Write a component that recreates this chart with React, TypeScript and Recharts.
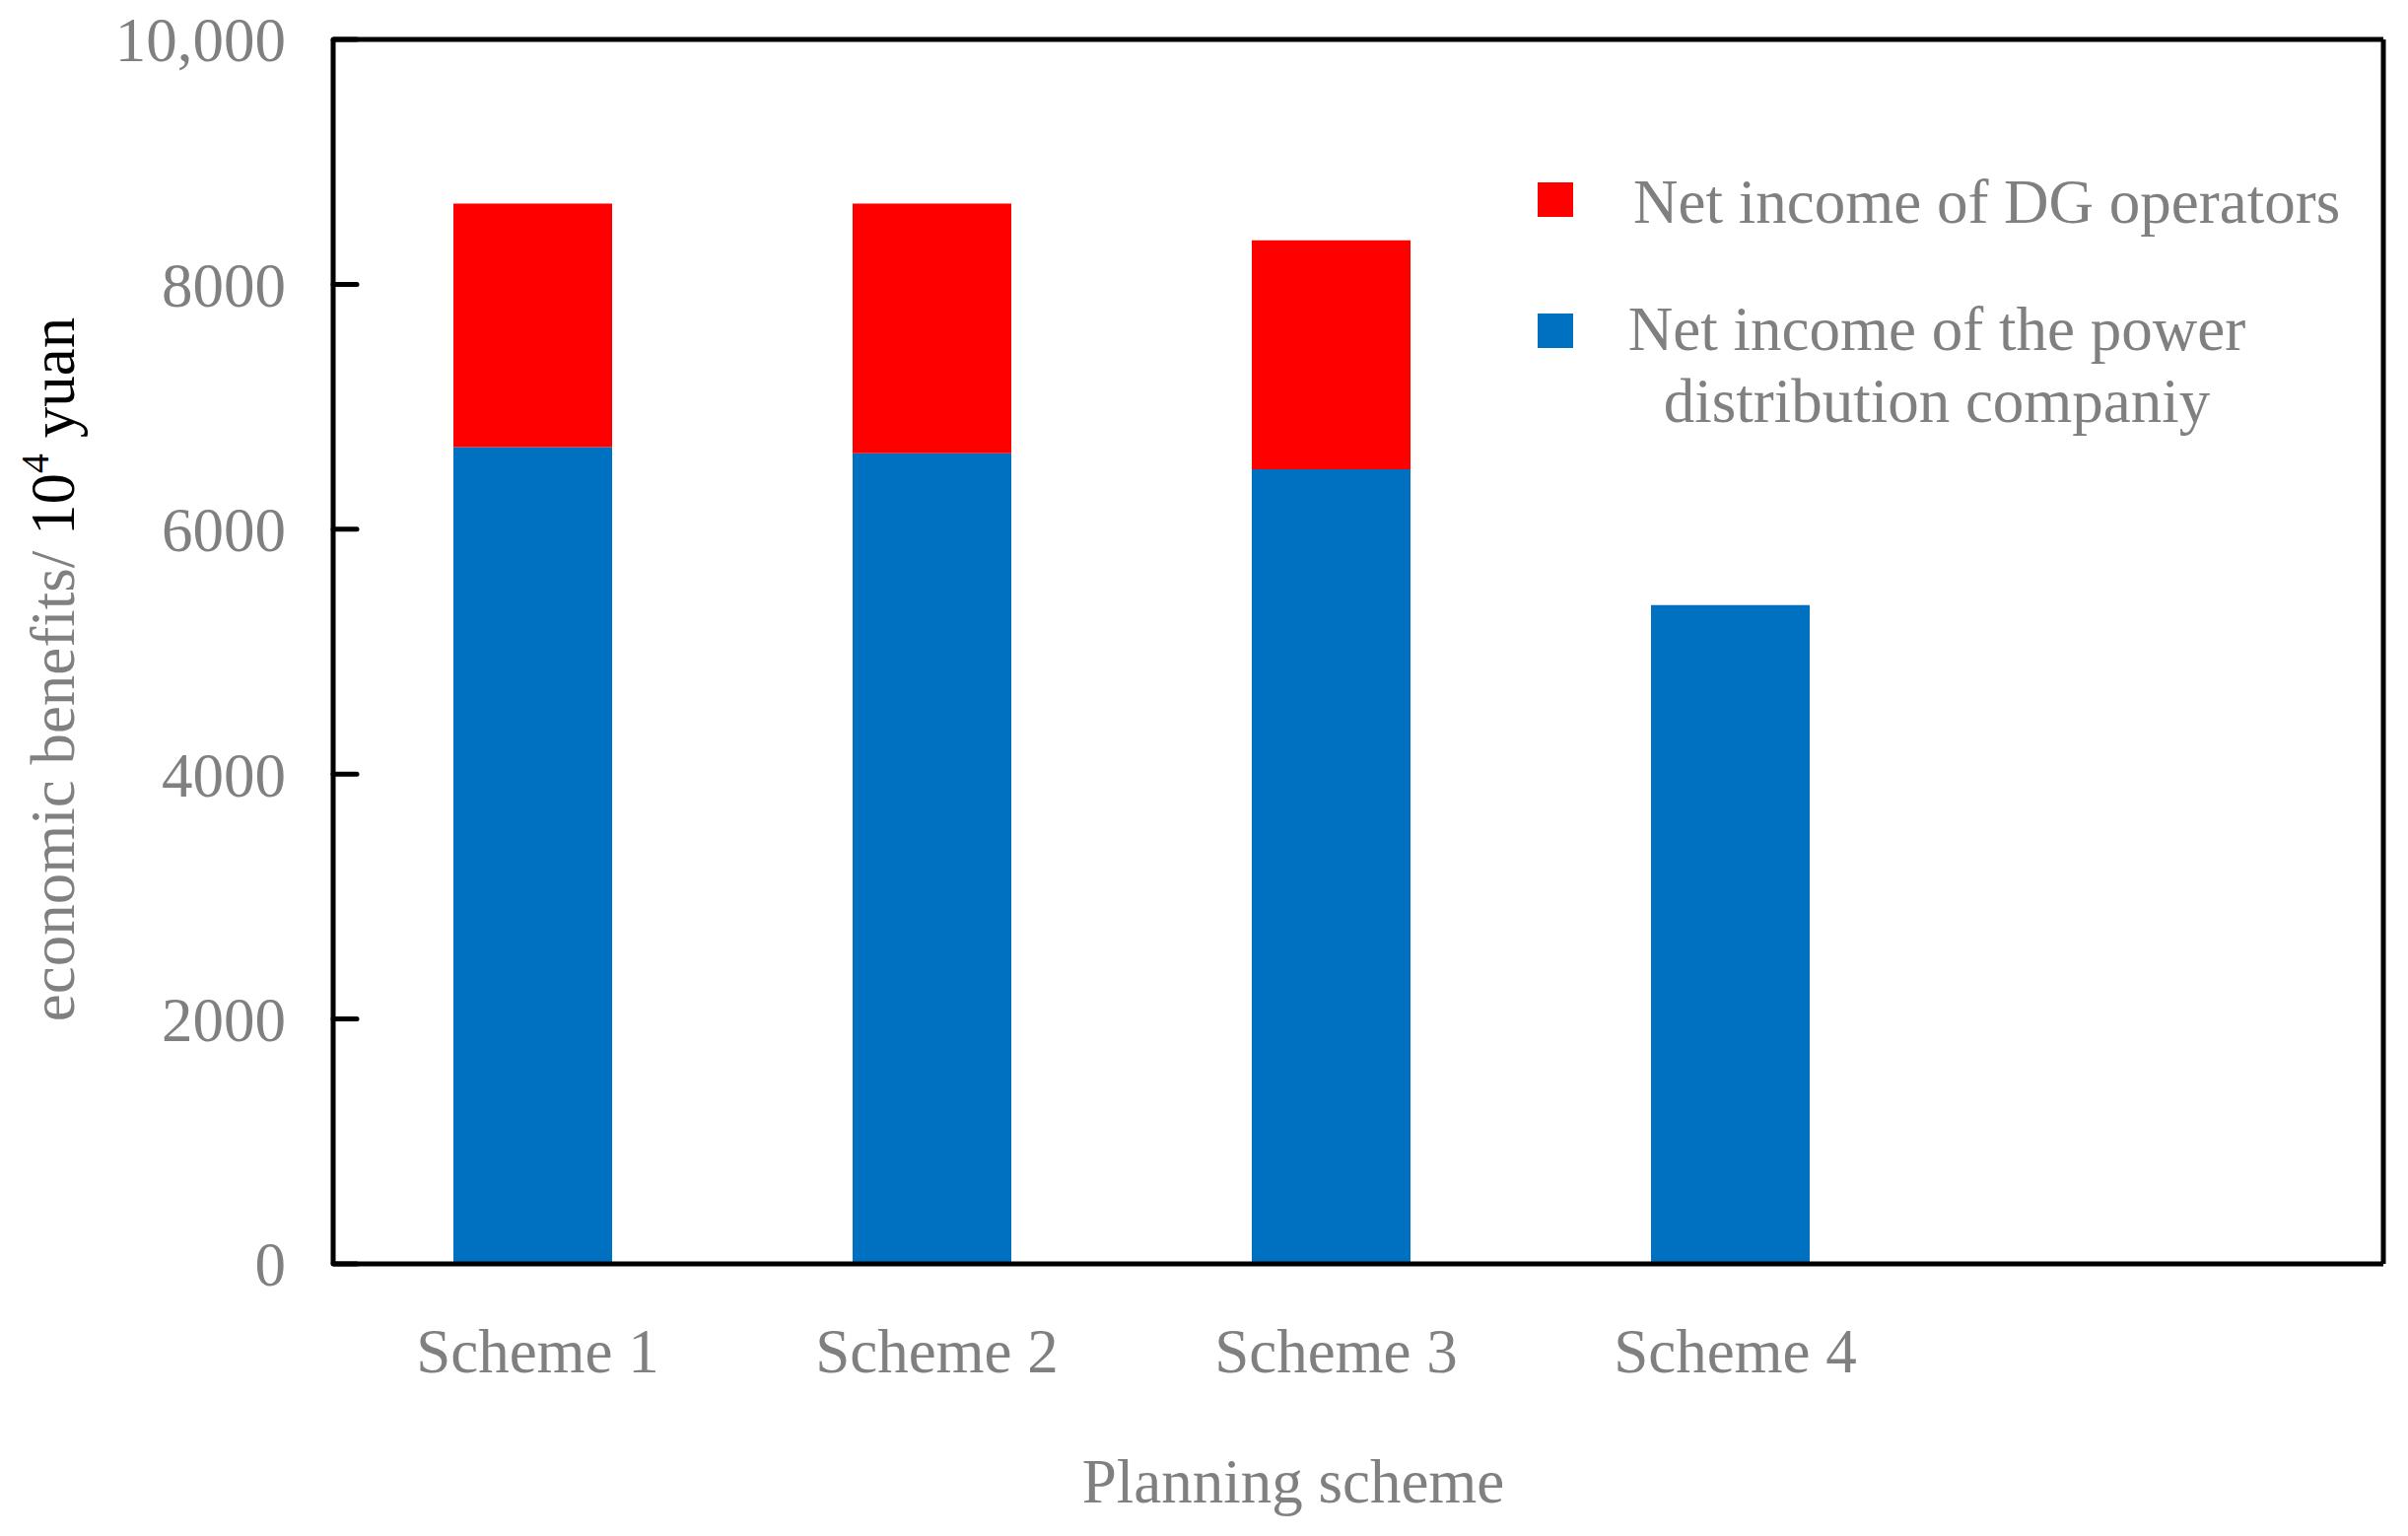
import {
  BarChart,
  Bar,
  XAxis,
  YAxis,
  Legend,
} from 'recharts'

const schemes = ['Scheme 1', 'Scheme 2', 'Scheme 3', 'Scheme 4', '']
const companyIncome = [6670, 6620, 6490, 5380, null]
const dgIncome = [1990, 2040, 1870, 0, null]
const yTicks = [0, 2000, 4000, 6000, 8000, 10000]

const data = schemes.map((name, i) => ({
  name,
  company: companyIncome[i],
  dg: dgIncome[i],
}))

const FONT = '"Liberation Serif", "Times New Roman", serif'
const GREY = '#808080'

function YTitle() {
  return (
    <text
      x={75}
      y={679}
      transform="rotate(-90 75 679)"
      textAnchor="middle"
      fontFamily={FONT}
      fontSize={63}
    >
      <tspan fill={GREY}>economic benefits/ </tspan>
      <tspan fill="#000">10</tspan>
      <tspan fill="#000" fontSize={40} dy={-26}>4</tspan>
      <tspan fill="#000" dy={26}> yuan</tspan>
    </text>
  )
}

function XTitle() {
  return (
    <text
      x={1312}
      y={1524}
      textAnchor="middle"
      fontFamily={FONT}
      fontSize={63}
      fill={GREY}
    >
      Planning scheme
    </text>
  )
}

function LegendBox(props: any) {
  const items = props.payload ?? []
  const dg = items.find((p: any) => p.dataKey === 'dg')
  const company = items.find((p: any) => p.dataKey === 'company')

  return (
    <div
      style={{
        position: 'relative',
        width: 2443,
        height: 1558,
        fontFamily: FONT,
        fontSize: 63,
        lineHeight: '73px',
        color: GREY,
        whiteSpace: 'nowrap',
      }}
    >
      <div style={{ position: 'absolute', left: 1560, top: 185, width: 36, height: 35, background: dg?.color ?? '#ff0000' }} />
      <div style={{ position: 'absolute', left: 1657, top: 169 }}>
        {dg?.value}
      </div>

      <div style={{ position: 'absolute', left: 1560, top: 318, width: 36, height: 35, background: company?.color ?? '#0070c0' }} />
      <div style={{ position: 'absolute', left: 1615, top: 298, width: 700, textAlign: 'center' }}>
        Net income of the power
        <br />
        distribution companiy
      </div>
    </div>
  )
}

export default function App() {
  return (
    <div style={{ position: 'absolute', left: 0, top: 0, background: '#fff' }}>
      <BarChart
        width={2443}
        height={1558}
        data={data}
        margin={{ top: 39, right: 24, bottom: 76, left: 0 }}
        barSize={161}
      >
        <XAxis
          dataKey="name"
          height={200}
          padding={{ left: 0, right: 55 }}
          axisLine={{ stroke: '#000', strokeWidth: 5 }}
          tickLine={false}
          tickSize={0}
          tickMargin={65}
          tick={{ fill: GREY, fontSize: 63, fontFamily: FONT, dx: 5 }}
          label={<XTitle />}
        />
        <XAxis
          xAxisId="top"
          dataKey="name"
          orientation="top"
          height={1}
          padding={{ left: 0, right: 55 }}
          tick={false}
          tickLine={false}
          axisLine={{ stroke: '#000', strokeWidth: 5 }}
        />
        <YAxis
          width={338}
          domain={[0, 10000]}
          ticks={yTicks}
          interval={0}
          tickFormatter={(v: number) => (v === 10000 ? '10,000' : String(v))}
          axisLine={{ stroke: '#000', strokeWidth: 5 }}
          tickLine={{ stroke: '#000', strokeWidth: 5, strokeLinecap: 'round' }}
          tickSize={-24}
          tickMargin={72}
          tick={{ fill: GREY, fontSize: 63, fontFamily: FONT }}
          label={<YTitle />}
        />
        <YAxis
          yAxisId="right"
          orientation="right"
          width={1}
          domain={[0, 10000]}
          tick={false}
          tickLine={false}
          axisLine={{ stroke: '#000', strokeWidth: 5 }}
        />
        <Legend
          layout="vertical"
          align="center"
          verticalAlign="middle"
          content={<LegendBox />}
          wrapperStyle={{ left: 0, top: 0, width: 2443, height: 1558, pointerEvents: 'none' }}
        />
        <Bar
          dataKey="company"
          name="Net income of the power distribution companiy"
          stackId="a"
          fill="#0070c0"
          isAnimationActive={false}
        />
        <Bar
          dataKey="dg"
          name="Net income of DG operators"
          stackId="a"
          fill="#ff0000"
          isAnimationActive={false}
        />
      </BarChart>
    </div>
  )
}
